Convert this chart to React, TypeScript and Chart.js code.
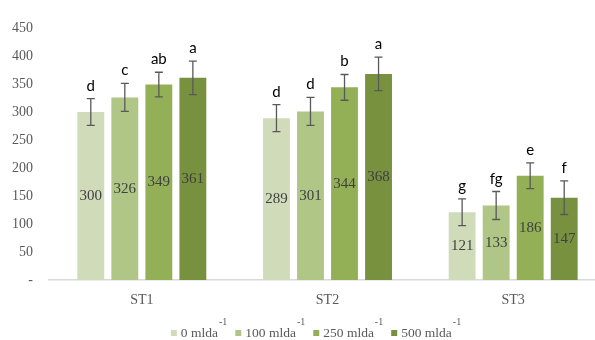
import React, { useEffect, useRef } from "react";
import { Chart, registerables } from "chart.js";

Chart.register(...registerables);

const categories = ["ST1", "ST2", "ST3"];
const seriesNames = ["0 mlda", "100 mlda", "250 mlda", "500 mlda"];
const series0 = [300, 289, 121];
const series1 = [326, 301, 133];
const series2 = [349, 344, 186];
const series3 = [361, 368, 147];
const errors0 = [24, 24, 24];
const errors1 = [25, 25, 25];
const errors2 = [22, 23, 23];
const errors3 = [30, 30, 30];
const letters0 = ["d", "d", "g"];
const letters1 = ["c", "d", "fg"];
const letters2 = ["ab", "b", "e"];
const letters3 = ["a", "a", "f"];
const colors = ["#d0dcb9", "#afc687", "#93b056", "#78913f"];

const allValues = [series0, series1, series2, series3];
const allErrors = [errors0, errors1, errors2, errors3];
const allLetters = [letters0, letters1, letters2, letters3];

const SERIF = "'Liberation Serif', 'Times New Roman', serif";

const annotationPlugin = {
  id: "annotations",
  afterDatasetsDraw(chart: any) {
    const ctx = chart.ctx;
    const yScale = chart.scales.y;
    ctx.save();
    chart.data.datasets.forEach((ds: any, i: number) => {
      const meta = chart.getDatasetMeta(i);
      meta.data.forEach((el: any, j: number) => {
        const v = allValues[i][j];
        const e = allErrors[i][j];
        const x = el.x;
        const yTop = yScale.getPixelForValue(v + e);
        const yBot = yScale.getPixelForValue(v - e);
        // value label
        ctx.fillStyle = "#404040";
        ctx.font = `15px ${SERIF}`;
        ctx.textAlign = "center";
        ctx.textBaseline = "middle";
        ctx.fillText(String(v), x, (el.y + el.base) / 2);
        // error bar
        ctx.strokeStyle = "#595959";
        ctx.lineWidth = 1.3;
        ctx.beginPath();
        ctx.moveTo(x, yTop);
        ctx.lineTo(x, yBot);
        ctx.moveTo(x - 4, yTop);
        ctx.lineTo(x + 4, yTop);
        ctx.moveTo(x - 4, yBot);
        ctx.lineTo(x + 4, yBot);
        ctx.stroke();
        // significance letter
        ctx.fillStyle = "#000000";
        ctx.font = "15px Lato, 'Liberation Sans', sans-serif";
        ctx.textBaseline = "alphabetic";
        ctx.fillText(allLetters[i][j], x, yTop - 8);
      });
    });
    ctx.restore();
  },
  afterDraw(chart: any) {
    const ctx = chart.ctx;
    ctx.save();
    const mainFont = `13.5px ${SERIF}`;
    const supFont = `10px ${SERIF}`;
    const box = 6;
    const boxGap = 4;
    const itemGap = 8;
    const widths = seriesNames.map((n) => {
      ctx.font = mainFont;
      const tw = ctx.measureText(n).width;
      ctx.font = supFont;
      const sw = ctx.measureText("-1").width;
      return { tw, sw, total: box + boxGap + tw + 1 + sw };
    });
    const total = widths.reduce((a, w) => a + w.total, 0) + itemGap * (widths.length - 1);
    let x = 316 - total / 2;
    const yText = 333;
    seriesNames.forEach((n, i) => {
      ctx.fillStyle = colors[i];
      ctx.fillRect(x, yText - 3, box, box);
      x += box + boxGap;
      ctx.fillStyle = "#595959";
      ctx.font = mainFont;
      ctx.textAlign = "left";
      ctx.textBaseline = "middle";
      ctx.fillText(n, x, yText);
      x += widths[i].tw + 1;
      ctx.font = supFont;
      ctx.fillText("-1", x, yText - 11);
      x += widths[i].sw + itemGap;
    });
    ctx.restore();
  },
};

export default function App() {
  const ref = useRef<HTMLCanvasElement | null>(null);
  useEffect(() => {
    if (!ref.current) return;
    const chart = new Chart(ref.current, {
      type: "bar",
      data: {
        labels: categories,
        datasets: allValues.map((vals, i) => ({
          label: seriesNames[i],
          data: vals,
          backgroundColor: colors[i],
          borderWidth: 0,
          categoryPercentage: 0.733,
          barPercentage: 0.79,
        })),
      },
      options: {
        responsive: false,
        animation: false,
        layout: { padding: { left: 0, right: 2, top: 28, bottom: 0 } },
        plugins: {
          legend: { display: false },
          tooltip: { enabled: false },
        },
        scales: {
          x: {
            grid: { display: false, drawTicks: false },
            border: { display: true, color: "#d9d9d9", width: 1.5 },
            ticks: {
              color: "#595959",
              font: { family: SERIF, size: 14 },
              padding: 12,
            },
            afterFit: (s: any) => {
              s.height = 60;
            },
          },
          y: {
            min: 0,
            max: 450,
            grid: { display: false, drawTicks: false },
            border: { display: false },
            ticks: {
              stepSize: 50,
              color: "#595959",
              font: { family: SERIF, size: 14 },
              padding: 16,
              callback: (v: any) => (Number(v) === 0 ? "-" : String(v)),
            },
            afterFit: (s: any) => {
              s.width = 49;
            },
          },
        },
      },
      plugins: [annotationPlugin],
    });
    return () => chart.destroy();
  }, []);
  return (
    <div
      style={{
        position: "fixed",
        left: 0,
        top: 0,
        width: 595,
        height: 340,
        overflow: "hidden",
        background: "#ffffff",
      }}
    >
      <canvas ref={ref} width={608} height={340} />
    </div>
  );
}
